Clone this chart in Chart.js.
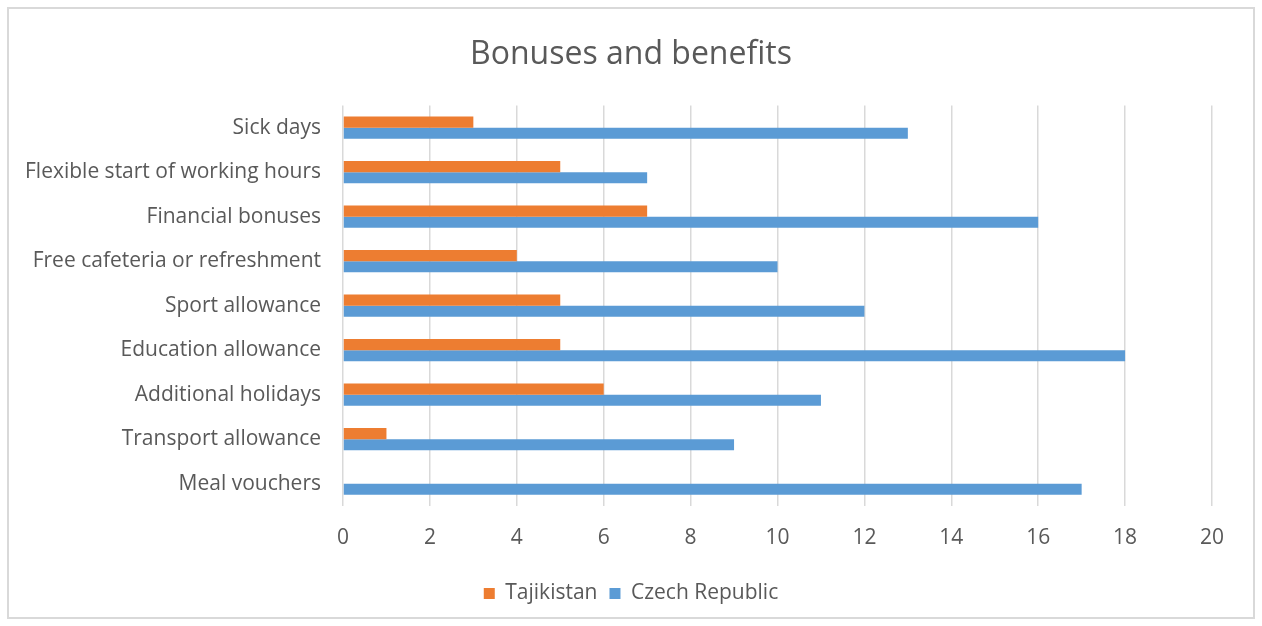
<!DOCTYPE html>
<html>
<head>
<meta charset="utf-8">
<script src="https://cdn.jsdelivr.net/npm/chart.js@4/dist/chart.umd.min.js"></script>
<style>
  html, body { margin: 0; padding: 0; background: #fff; }
  #box {
    position: absolute; left: 7px; top: 7px;
    width: 1248px; height: 612px;
    box-sizing: border-box;
    border: 2px solid #d9d9d9;
  }
</style>
</head>
<body>
<div id="box"><canvas id="benefitsChart" width="1244" height="608"></canvas></div>
<script>
const categories = [
  'Sick days',
  'Flexible start of working hours',
  'Financial bonuses',
  'Free cafeteria or refreshment',
  'Sport allowance',
  'Education allowance',
  'Additional holidays',
  'Transport allowance',
  'Meal vouchers'
];
const tajikistan = [3, 5, 7, 4, 5, 5, 6, 1, 0];
const czechRepublic = [13, 7, 16, 10, 12, 18, 11, 9, 17];

const textColor = '#595959';
const fontFamily = '"Open Sans", "Noto Sans", sans-serif';

const ctx = document.getElementById('benefitsChart').getContext('2d');

new Chart(ctx, {
  type: 'bar',
  data: {
    labels: categories,
    datasets: [
      {
        label: 'Tajikistan',
        data: tajikistan,
        backgroundColor: '#ED7D31',
        categoryPercentage: 0.5,
        barPercentage: 1.0
      },
      {
        label: 'Czech Republic',
        data: czechRepublic,
        backgroundColor: '#5B9BD5',
        categoryPercentage: 0.5,
        barPercentage: 1.0
      }
    ]
  },
  options: {
    indexAxis: 'y',
    responsive: false,
    animation: false,
    layout: {
      padding: { left: 0, right: 0, top: 0, bottom: 3 }
    },
    scales: {
      x: {
        min: 0,
        max: 20,
        ticks: {
          stepSize: 2,
          color: textColor,
          padding: 19,
          font: { family: fontFamily, size: 21 }
        },
        grid: { color: '#d9d9d9', lineWidth: 1.5, drawTicks: false },
        border: { display: false },
        afterFit: (scale) => { scale.height = 65; }
      },
      y: {
        ticks: {
          color: textColor,
          padding: 22,
          font: { family: fontFamily, size: 21 }
        },
        grid: { display: false, drawTicks: false },
        border: { display: false },
        afterFit: (scale) => { scale.width = 334; }
      },
      // empty axis on the right, only to leave the blank margin there
      yRight: {
        type: 'category',
        position: 'right',
        ticks: { display: false },
        grid: { display: false, drawTicks: false },
        border: { display: false },
        afterFit: (scale) => { scale.width = 41; }
      }
    },
    plugins: {
      title: {
        display: true,
        text: 'Bonuses and benefits',
        color: textColor,
        font: { family: fontFamily, size: 32, weight: 'normal' },
        padding: { top: 27, bottom: 31 }
      },
      legend: {
        position: 'bottom',
        labels: {
          color: textColor,
          boxWidth: 11,
          boxHeight: 11,
          padding: 12,
          font: { family: fontFamily, size: 21 }
        }
      },
      tooltip: { enabled: false }
    }
  }
});
</script>
</body>
</html>
